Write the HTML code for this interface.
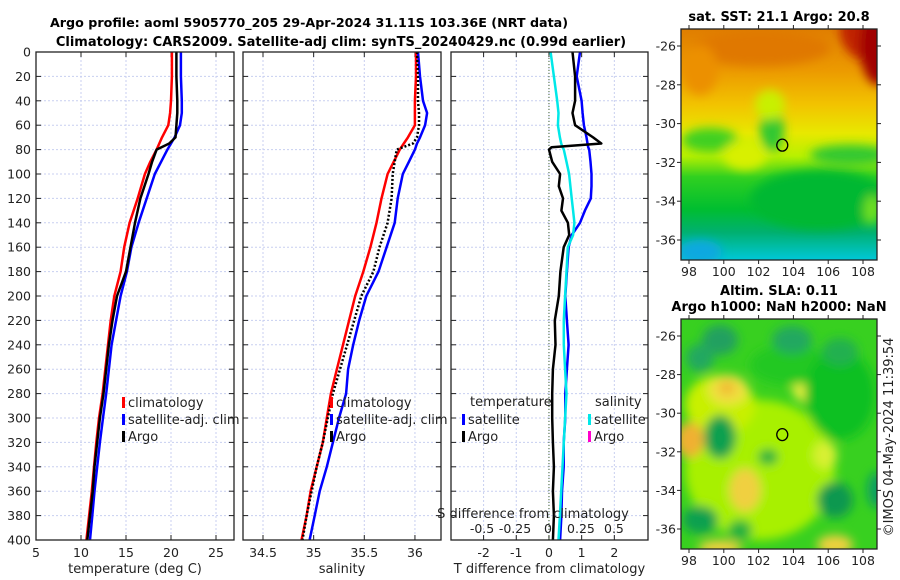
<!DOCTYPE html>
<html><head><meta charset="utf-8">
<style>
html,body{margin:0;padding:0;background:#fff;}
svg{display:block;font-family:"DejaVu Sans","Liberation Sans",sans-serif;}
</style></head>
<body>
<svg id="fig" width="900" height="580" viewBox="0 0 900 580" xmlns="http://www.w3.org/2000/svg">
<defs>
<filter id="blur4" x="-20%" y="-20%" width="140%" height="140%"><feGaussianBlur stdDeviation="5"/></filter>
<linearGradient id="sstGrad" x1="0" y1="0" x2="0" y2="1">
<stop offset="0" stop-color="#e07e00"/><stop offset="0.18" stop-color="#ec9a00"/>
<stop offset="0.33" stop-color="#f2c400"/><stop offset="0.45" stop-color="#e8e800"/>
<stop offset="0.55" stop-color="#b8f000"/><stop offset="0.64" stop-color="#30d020"/>
<stop offset="0.78" stop-color="#00be30"/><stop offset="0.88" stop-color="#00b070"/>
<stop offset="1" stop-color="#00c8d8"/>
</linearGradient>
</defs>
<text x="309" y="27" text-anchor="middle" font-size="12.7" font-weight="bold">Argo profile: aoml 5905770_205 29-Apr-2024 31.11S 103.36E (NRT data)</text>
<text x="341" y="46" text-anchor="middle" font-size="13" font-weight="bold">Climatology: CARS2009. Satellite-adj clim: synTS_20240429.nc (0.99d earlier)</text>
<g id="plots"></g>
<g id="maps"></g>
<text transform="translate(893,437) rotate(-90)" text-anchor="middle" font-size="13" fill="#222">©IMOS 04-May-2024 11:39:54</text>
</svg>
<script>
const depths = [0,20,40,50,60,70,75,80,90,100,120,140,160,180,200,220,240,260,280,300,320,340,360,380,400];
const climT = [20.1,20.1,20.0,19.9,19.7,19.0,18.7,18.4,17.7,17.1,16.3,15.4,14.8,14.4,13.7,13.3,13.0,12.7,12.4,12.0,11.7,11.45,11.2,10.9,10.6];
const satT = [21.1,21.1,21.2,21.2,21.0,20.4,20.0,19.6,18.9,18.2,17.3,16.4,15.6,15.1,14.4,13.9,13.4,13.1,12.8,12.45,12.1,11.8,11.5,11.25,11.0];
const argoT = [20.6,20.6,20.7,20.7,20.6,20.5,19.8,18.4,17.9,17.5,16.6,16.0,15.5,15.0,14.0,13.5,13.1,12.8,12.5,12.1,11.8,11.5,11.3,11.0,10.7];
const climS = [36.01,36.01,36.0,36.0,36.0,35.93,35.89,35.85,35.79,35.73,35.67,35.62,35.56,35.49,35.41,35.35,35.29,35.23,35.17,35.13,35.09,35.03,34.97,34.93,34.88];
const satS = [36.03,36.05,36.08,36.12,36.1,36.05,36.02,36.0,35.94,35.88,35.83,35.8,35.72,35.64,35.52,35.45,35.39,35.34,35.32,35.25,35.19,35.13,35.06,35.01,34.96];
const argoS = [36.02,36.03,36.03,36.04,36.04,36.02,35.98,35.82,35.8,35.78,35.77,35.73,35.65,35.59,35.47,35.40,35.33,35.26,35.19,35.14,35.09,35.03,34.98,34.93,34.89];
const diffDepths = [0,20,40,50,60,70,75,78,80,90,100,110,120,130,140,150,160,180,200,220,240,260,280,300,320,340,360,380,400];
const argoDT = [0.72,0.8,0.8,0.72,0.8,1.35,1.6,0.08,0.0,0.1,0.34,0.3,0.43,0.38,0.58,0.62,0.45,0.35,0.3,0.18,0.2,0.12,0.1,0.1,0.12,0.15,0.12,0.15,0.12];
const satDT = [0.95,0.85,1.0,1.03,1.07,1.15,1.18,1.2,1.23,1.27,1.3,1.3,1.28,1.1,0.95,0.7,0.6,0.55,0.5,0.55,0.6,0.55,0.5,0.5,0.45,0.45,0.4,0.38,0.34];
const satDS = [0.02,0.045,0.07,0.08,0.075,0.09,0.1,0.11,0.12,0.14,0.16,0.17,0.18,0.19,0.2,0.19,0.15,0.14,0.13,0.12,0.12,0.13,0.14,0.13,0.12,0.11,0.1,0.09,0.08];
const depthTicks = [0,20,40,60,80,100,120,140,160,180,200,220,240,260,280,300,320,340,360,380,400];
const tTicks = [5,10,15,20,25];
const sTicks = [34.5,35,35.5,36];
const dTTicks = [-2,-1,0,1,2];
const dSTicks = [-0.5,-0.25,0,0.25,0.5];
const dSTickLabels = ['-0.5','-0.25','0','0.25','0.5'];
const latTicks = [-26,-28,-30,-32,-34,-36];
const lonTicks = [98,100,102,104,106,108];
const argoLon = 103.36, argoLat = -31.11;

const NS='http://www.w3.org/2000/svg';
const plots=document.getElementById('plots');
function mk(tag,attrs,parent){const e=document.createElementNS(NS,tag);for(const k in attrs)e.setAttribute(k,attrs[k]);(parent||plots).appendChild(e);return e;}
function txt(x,y,s,size,anchor,parent){const t=mk('text',{x:x,y:y,'font-size':size,'text-anchor':anchor||'middle',fill:'#222'},parent);t.textContent=s;return t;}

const Y0=52,Y1=540;
function yD(d){return Y0+(Y1-Y0)*d/400;}
const panels=[
 {x0:36,x1:234,min:5,max:27,name:'temperature-panel'},
 {x0:243,x1:441,min:34.3026,max:36.2572,name:'salinity-panel'},
 {x0:451,x1:648,min:-2.997,max:3.03,name:'difference-panel'}
];
function xf(p,v){return p.x0+(v-p.min)/(p.max-p.min)*(p.x1-p.x0);}
const pS={x0:451,x1:648,min:-0.735,max:0.758};
function xS(v){return pS.x0+(v-pS.min)/(pS.max-pS.min)*(pS.x1-pS.x0);}

function frame(p,ticks,labels,xlabel,idx){
  const g=mk('g',{});
  
  
  ticks.forEach(v=>{const x=xf(p,v);mk('line',{x1:x,x2:x,y1:Y0,y2:Y1,stroke:'#c8cff0','stroke-width':1,'stroke-dasharray':'2,2'},g);
    mk('line',{x1:x,x2:x,y1:Y1,y2:Y1-5,stroke:'#222'},g);mk('line',{x1:x,x2:x,y1:Y0,y2:Y0+5,stroke:'#222'},g);});
  depthTicks.forEach(d=>{const y=yD(d);mk('line',{x1:p.x0,x2:p.x1,y1:y,y2:y,stroke:'#c8cff0','stroke-width':1,'stroke-dasharray':'2,2'},g);
    mk('line',{x1:p.x0,x2:p.x0+5,y1:y,y2:y,stroke:'#222'},g);mk('line',{x1:p.x1-5,x2:p.x1,y1:y,y2:y,stroke:'#222'},g);
    if(idx===0){const t=txt(31,y+4.5,String(d),12.5,'end',g);}});
  ticks.forEach((v,i)=>{const t=txt(xf(p,v),Y1+17,labels[i],12.5,'middle',g);
    
    });
  const xl=txt((p.x0+p.x1)/2,Y1+33,xlabel,13,'middle',g);
  
  
  return g;
}
function border(p){const r=mk('rect',{x:p.x0,y:Y0,width:p.x1-p.x0,height:Y1-Y0,fill:'none',stroke:'#222','stroke-width':1.3});
  
  }
function line(fx,vals,ds,color,w,name,dash){
  const pts=vals.map((v,i)=>fx(v).toFixed(1)+','+yD(ds[i]).toFixed(1)).join(' ');
  const l=mk('polyline',{points:pts,fill:'none',stroke:color,'stroke-width':w,'stroke-linejoin':'round'});
  if(dash)l.setAttribute('stroke-dasharray',dash);
  
  
}
function legendEntry(x,y,color,label,g){
  const m=mk('rect',{x:x,y:y-9,width:3,height:11,fill:color},g);
  
  
  const t=txt(x+6,y+1,label,13,'start',g);
  
  
}

const p0=panels[0],p1=panels[1],p2=panels[2];
frame(p0,tTicks,tTicks.map(String),'temperature (deg C)',0);
frame(p1,sTicks,sTicks.map(String),'salinity',1);
frame(p2,dTTicks,dTTicks.map(String),'T difference from climatology',2);

line(v=>xf(p0,v),climT,depths,'#ff0000',2.5,'temperature-climatology-line');
line(v=>xf(p0,v),satT,depths,'#0000ff',2.5,'temperature-satellite-line');
line(v=>xf(p0,v),argoT,depths,'#000000',2.5,'temperature-argo-line');
line(v=>xf(p1,v),climS,depths,'#ff0000',2.5,'salinity-climatology-line');
line(v=>xf(p1,v),satS,depths,'#0000ff',2.5,'salinity-satellite-line');
line(v=>xf(p1,v),argoS,depths,'#000000',2.5,'salinity-argo-line','2,2');
const z=mk('line',{x1:xf(p2,0),x2:xf(p2,0),y1:Y0,y2:Y1,stroke:'#446633','stroke-width':1,'stroke-dasharray':'1,2'});


line(v=>xf(p2,v),satDT,diffDepths,'#0000ff',2.5,'temp-diff-satellite-line');
line(v=>xS(v),satDS,diffDepths,'#00e8e8',2.5,'salinity-diff-satellite-line');
line(v=>xf(p2,v),argoDT,diffDepths,'#000000',2.5,'temp-diff-argo-line');
border(p0);border(p1);border(p2);

const lg1=mk('g',{});
legendEntry(122,406,'#ff0000','climatology',lg1);legendEntry(122,423,'#0000ff','satellite-adj. clim',lg1);legendEntry(122,440,'#000000','Argo',lg1);
const lg2=mk('g',{});
legendEntry(330,406,'#ff0000','climatology',lg2);legendEntry(330,423,'#0000ff','satellite-adj. clim',lg2);legendEntry(330,440,'#000000','Argo',lg2);
const lg3=mk('g',{});
txt(470,406,'temperature',13,'start',lg3);
legendEntry(462,423,'#0000ff','satellite',lg3);legendEntry(462,440,'#000000','Argo',lg3);
txt(595,406,'salinity',13,'start',lg3);
legendEntry(588,423,'#00e8e8','satellite',lg3);legendEntry(588,440,'#ff00cc','Argo',lg3);

const sl=txt(533,518,'S difference from climatology',13,'middle');


dSTicks.forEach((v,i)=>{const t=txt(xS(v),533,dSTickLabels[i],12.5,'middle');
  
  });

const maps=document.getElementById('maps');
function mapAxes(top,bottom,latY0,latY1,titleLines,name,drawFn){
  const g=mk('g',{},maps);
  
  
  const img=mk('svg',{x:681,y:top,width:196,height:bottom-top,viewBox:'681 '+top+' 196 '+(bottom-top),overflow:'hidden'},g);
  drawFn(img);
  const lonX=lon=>689+(lon-98)*17.4;
  const latY=lat=>latY0+(lat+26)/(-10)*(latY1-latY0);
  const cx=lonX(argoLon),cy=latY(argoLat);
  const c=mk('ellipse',{cx:cx,cy:cy,rx:5.5,ry:6,fill:'none',stroke:'#000','stroke-width':1.3},g);
  
  
  mk('rect',{x:681,y:top,width:196,height:bottom-top,fill:'none',stroke:'#222','stroke-width':1.3},g);
  latTicks.forEach(l=>{const y=latY(l);mk('line',{x1:677,x2:681,y1:y,y2:y,stroke:'#222'},g);mk('line',{x1:877,x2:881,y1:y,y2:y,stroke:'#222'},g);
    const t=txt(676,y+4.5,String(l),12.5,'end',g);
    
    });
  lonTicks.forEach(l=>{const x=lonX(l);mk('line',{x1:x,x2:x,y1:bottom,y2:bottom+4,stroke:'#222'},g);mk('line',{x1:x,x2:x,y1:top-4,y2:top,stroke:'#222'},g);
    const t=txt(x,bottom+16,String(l),12.5,'middle',g);
    
    });
  titleLines.forEach((s,i)=>{const t=txt(779,top-8-(titleLines.length-1-i)*16,s,13,'middle',g);t.setAttribute('font-weight','bold');t.setAttribute('fill','#000');
    
    });
}
mapAxes(29,260,46,240,['sat. SST: 21.1 Argo: 20.8'],'sst-map',g=>{
  mk('rect',{x:681,y:29,width:196,height:231,fill:'url(#sstGrad)'},g);
  const b=mk('g',{filter:'url(#blur4)'},g);
  mk('ellipse',{cx:880,cy:30,rx:40,ry:35,fill:'#c02000'},b);
  mk('ellipse',{cx:878,cy:45,rx:18,ry:40,fill:'#a00000'},b);
  mk('ellipse',{cx:760,cy:48,rx:70,ry:18,fill:'#e07800'},b);
  mk('ellipse',{cx:700,cy:70,rx:18,ry:25,fill:'#ec9000'},b);
  mk('ellipse',{cx:710,cy:140,rx:28,ry:12,fill:'#40d020'},b);
  mk('ellipse',{cx:772,cy:130,rx:12,ry:22,fill:'#30c830'},b);
  mk('ellipse',{cx:770,cy:105,rx:15,ry:15,fill:'#c8f000'},b);
  mk('ellipse',{cx:745,cy:155,rx:22,ry:15,fill:'#d8f000'},b);
  mk('ellipse',{cx:850,cy:155,rx:40,ry:10,fill:'#30c830'},b);
  mk('ellipse',{cx:820,cy:200,rx:70,ry:30,fill:'#00b830'},b);
  mk('ellipse',{cx:700,cy:252,rx:22,ry:12,fill:'#10a8e0'},b);
  mk('ellipse',{cx:872,cy:210,rx:8,ry:15,fill:'#70e020'},b);
});
mapAxes(319,549,336,529,['Altim. SLA: 0.11','Argo h1000: NaN h2000: NaN'],'sla-map',g=>{
  mk('rect',{x:681,y:319,width:196,height:230,fill:'#38d020'},g);
  const b=mk('g',{filter:'url(#blur4)'},g);
  mk('ellipse',{cx:760,cy:470,rx:75,ry:70,fill:'#a8f000'},b);
  mk('ellipse',{cx:720,cy:405,rx:35,ry:30,fill:'#c8f000'},b);
  mk('ellipse',{cx:728,cy:390,rx:20,ry:15,fill:'#f0e040'},b);
  mk('ellipse',{cx:727,cy:388,rx:8,ry:7,fill:'#f0b830'},b);
  mk('ellipse',{cx:812,cy:388,rx:20,ry:16,fill:'#e8f040'},b);
  mk('ellipse',{cx:690,cy:440,rx:14,ry:18,fill:'#f0b030'},b);
  mk('ellipse',{cx:745,cy:490,rx:16,ry:22,fill:'#f0d040'},b);
  mk('ellipse',{cx:825,cy:455,rx:12,ry:14,fill:'#d8f030'},b);
  mk('ellipse',{cx:860,cy:410,rx:10,ry:9,fill:'#c8f000'},b);
  mk('ellipse',{cx:835,cy:545,rx:18,ry:10,fill:'#f0d040'},b);
  mk('ellipse',{cx:720,cy:548,rx:22,ry:8,fill:'#f0d040'},b);
  mk('ellipse',{cx:790,cy:365,rx:40,ry:20,fill:'#20c820'},b);
  mk('ellipse',{cx:840,cy:395,rx:35,ry:45,fill:'#10c020'},b);
  mk('ellipse',{cx:720,cy:340,rx:18,ry:15,fill:'#20a060'},b);
  mk('ellipse',{cx:700,cy:358,rx:14,ry:14,fill:'#20a860'},b);
  mk('ellipse',{cx:792,cy:340,rx:20,ry:14,fill:'#20a860'},b);
  mk('ellipse',{cx:840,cy:352,rx:18,ry:14,fill:'#20b050'},b);
  mk('ellipse',{cx:720,cy:437,rx:16,ry:22,fill:'#10a050'},b);
  mk('ellipse',{cx:768,cy:457,rx:10,ry:8,fill:'#20b040'},b);
  mk('ellipse',{cx:835,cy:500,rx:18,ry:18,fill:'#109850'},b);
  mk('ellipse',{cx:700,cy:520,rx:18,ry:14,fill:'#10a050'},b);
  mk('ellipse',{cx:740,cy:530,rx:12,ry:10,fill:'#20b040'},b);
  mk('ellipse',{cx:877,cy:490,rx:10,ry:18,fill:'#10a060'},b);
});
</script>
</body></html>
